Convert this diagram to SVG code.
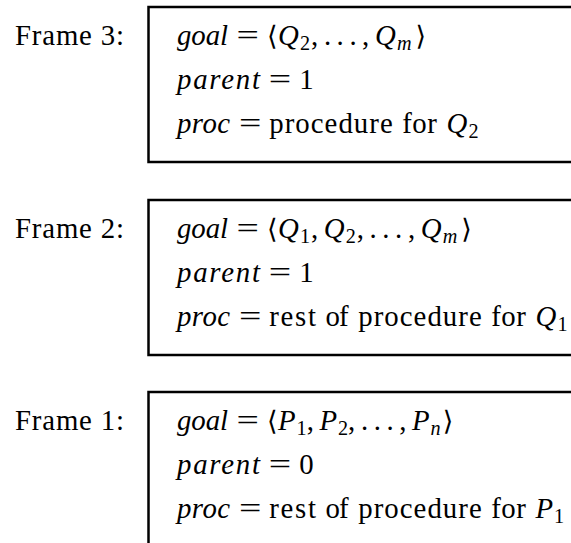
<svg xmlns="http://www.w3.org/2000/svg" width="571" height="543" viewBox="0 0 571 543">
<style>
text{font-family:"Liberation Serif","DejaVu Serif",serif;font-size:28.8px;fill:#000}
.it{font-style:italic}
.sub{font-size:20.2px}
.br{font-family:"DejaVu Serif","Liberation Serif",serif;font-size:27px}
.box{fill:none;stroke:#000;stroke-width:2.5}
</style>
<rect width="571" height="543" fill="#fff"/>
<g id="frame3">
<rect class="box" x="148.5" y="7" width="460" height="155"/>
<text x="15" y="45" textLength="109">Frame 3:</text>
<text y="45"><tspan class="it" x="177" textLength="51">goal</tspan><tspan x="236.5" textLength="22.4" lengthAdjust="spacingAndGlyphs">=</tspan><tspan class="br" x="267">⟨</tspan><tspan class="it" x="278">Q</tspan><tspan class="sub" x="300" dy="5">2</tspan><tspan x="311" dy="-5">,</tspan><tspan x="324">.</tspan><tspan x="336.6">.</tspan><tspan x="349.4">.</tspan><tspan x="362">,</tspan><tspan class="it" x="375">Q</tspan><tspan class="sub it" x="397" dy="5">m</tspan><tspan class="br" x="415.5" dy="-5">⟩</tspan></text>
<text y="89"><tspan class="it" x="177" textLength="83">parent</tspan><tspan x="268.8" textLength="22.4" lengthAdjust="spacingAndGlyphs">=</tspan><tspan x="299.2">1</tspan></text>
<text y="133"><tspan class="it" x="177" textLength="53">proc</tspan><tspan x="238.9" textLength="22.4" lengthAdjust="spacingAndGlyphs">=</tspan><tspan x="269.3" textLength="123.4">procedure</tspan><tspan x="402.3" textLength="34.5">for</tspan><tspan class="it" x="446.4">Q</tspan><tspan class="sub" x="468.5" dy="5">2</tspan></text>
</g>
<g id="frame2">
<rect class="box" x="148.5" y="200" width="460" height="155"/>
<text x="15" y="238" textLength="109">Frame 2:</text>
<text y="238"><tspan class="it" x="177" textLength="51">goal</tspan><tspan x="236.5" textLength="22.4" lengthAdjust="spacingAndGlyphs">=</tspan><tspan class="br" x="267">⟨</tspan><tspan class="it" x="278">Q</tspan><tspan class="sub" x="300" dy="5">1</tspan><tspan x="311" dy="-5">,</tspan><tspan class="it" x="323.8">Q</tspan><tspan class="sub" x="345.8" dy="5">2</tspan><tspan x="356.7" dy="-5">,</tspan><tspan x="369.5">.</tspan><tspan x="382.3">.</tspan><tspan x="395.1">.</tspan><tspan x="407.9">,</tspan><tspan class="it" x="420.7">Q</tspan><tspan class="sub it" x="442.7" dy="5">m</tspan><tspan class="br" x="461.2" dy="-5">⟩</tspan></text>
<text y="282"><tspan class="it" x="177" textLength="83">parent</tspan><tspan x="268.8" textLength="22.4" lengthAdjust="spacingAndGlyphs">=</tspan><tspan x="299.2">1</tspan></text>
<text y="326"><tspan class="it" x="177" textLength="53">proc</tspan><tspan x="238.9" textLength="22.4" lengthAdjust="spacingAndGlyphs">=</tspan><tspan x="269.3" textLength="46.6">rest</tspan><tspan x="325.5" textLength="23.2">of</tspan><tspan x="358.3" textLength="123.4">procedure</tspan><tspan x="491.3" textLength="34.5">for</tspan><tspan class="it" x="535.4">Q</tspan><tspan class="sub" x="557.5" dy="5">1</tspan></text>
</g>
<g id="frame1">
<rect class="box" x="148.5" y="392" width="460" height="200"/>
<text x="15" y="430" textLength="109">Frame 1:</text>
<text y="430"><tspan class="it" x="177" textLength="51">goal</tspan><tspan x="236.5" textLength="22.4" lengthAdjust="spacingAndGlyphs">=</tspan><tspan class="br" x="267">⟨</tspan><tspan class="it" x="278">P</tspan><tspan class="sub" x="296.6" dy="5">1</tspan><tspan x="306.7" dy="-5">,</tspan><tspan class="it" x="319.5">P</tspan><tspan class="sub" x="338" dy="5">2</tspan><tspan x="348.1" dy="-5">,</tspan><tspan x="360.9">.</tspan><tspan x="373.7">.</tspan><tspan x="386.5">.</tspan><tspan x="399.3">,</tspan><tspan class="it" x="412.1">P</tspan><tspan class="sub it" x="430.6" dy="5">n</tspan><tspan class="br" x="442.7" dy="-5">⟩</tspan></text>
<text y="474"><tspan class="it" x="177" textLength="83">parent</tspan><tspan x="268.8" textLength="22.4" lengthAdjust="spacingAndGlyphs">=</tspan><tspan x="299.2">0</tspan></text>
<text y="518"><tspan class="it" x="177" textLength="53">proc</tspan><tspan x="238.9" textLength="22.4" lengthAdjust="spacingAndGlyphs">=</tspan><tspan x="269.3" textLength="46.6">rest</tspan><tspan x="325.5" textLength="23.2">of</tspan><tspan x="358.3" textLength="123.4">procedure</tspan><tspan x="491.3" textLength="34.5">for</tspan><tspan class="it" x="535.4">P</tspan><tspan class="sub" x="553.9" dy="5">1</tspan></text>
</g>
<g id="connectors"/>
</svg>
